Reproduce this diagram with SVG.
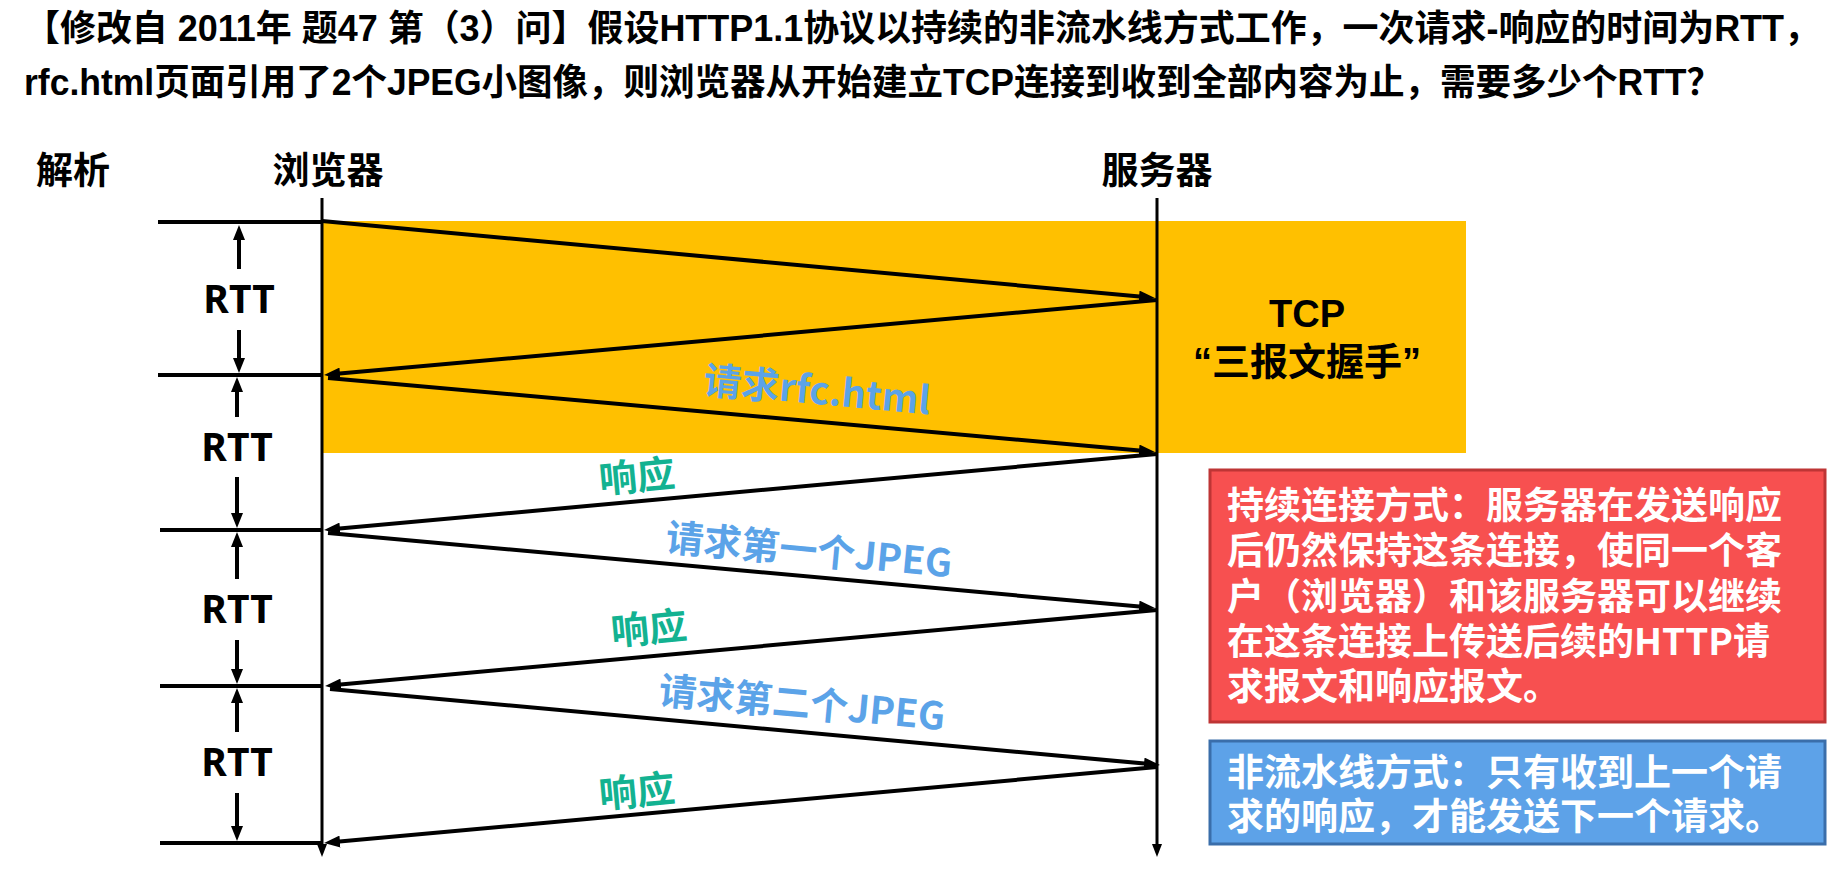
<svg xmlns="http://www.w3.org/2000/svg" width="1847" height="872" viewBox="0 0 1847 872">
<style>
  text { font-family: "Noto Sans CJK SC", "Noto Sans", sans-serif; font-weight: 700; }
  .title { font-family: "Liberation Sans", "Noto Sans CJK SC", sans-serif; font-size: 36px; fill: #000; }
  .head { font-size: 37px; fill: #000; }
  .rtt { font-family: "Noto Sans", "Noto Sans CJK SC", sans-serif; font-size: 39px; fill: #000; text-anchor: middle; }
  .tcp { font-family: "Liberation Sans", "Noto Sans CJK SC", sans-serif; font-size: 38px; fill: #000; text-anchor: middle; }
  .req { font-size: 38px; fill: #5BA3E8; text-anchor: middle; }
  .resp { font-size: 38px; fill: #13B291; text-anchor: middle; }
  .note { font-size: 37px; fill: #fff; }
  .msg { stroke: #000; stroke-width: 4; fill: none; marker-end: url(#msgHead); }
  .life { stroke: #000; stroke-width: 3; fill: none; marker-end: url(#lifeHead); }
  .tick { stroke: #000; stroke-width: 4; }
  .dim { stroke: #000; stroke-width: 4; marker-end: url(#dimHead); }
</style>
<defs>
  <marker id="msgHead" viewBox="0 0 16 12" refX="6" refY="6" markerWidth="16" markerHeight="12" orient="auto" markerUnits="userSpaceOnUse">
    <path d="M0,0 L16,6 L0,12 z" fill="#000"/>
  </marker>
  <marker id="lifeHead" viewBox="0 0 13 10" refX="2" refY="5" markerWidth="13" markerHeight="10" orient="auto" markerUnits="userSpaceOnUse">
    <path d="M0,0 L13,5 L0,10 z" fill="#000"/>
  </marker>
  <marker id="dimHead" viewBox="0 0 15 12" refX="2" refY="6" markerWidth="15" markerHeight="12" orient="auto" markerUnits="userSpaceOnUse">
    <path d="M0,0 L15,6 L0,12 z" fill="#000"/>
  </marker>
</defs>
<rect width="1847" height="872" fill="#fff"/>

<g id="title">
  <text class="title" x="24" y="41" textLength="1796" lengthAdjust="spacingAndGlyphs">【修改自 2011年 题47 第（3）问】假设HTTP1.1协议以持续的非流水线方式工作，一次请求-响应的时间为RTT，</text>
  <text class="title" x="24" y="95" textLength="1698" lengthAdjust="spacingAndGlyphs">rfc.html页面引用了2个JPEG小图像，则浏览器从开始建立TCP连接到收到全部内容为止，需要多少个RTT？</text>
</g>

<g id="tcp-handshake">
  <rect x="322" y="221" width="1144" height="232" fill="#FFC000"/>
  <text class="tcp" x="1307" y="327">TCP</text>
  <text class="tcp" x="1307" y="375">“三报文握手”</text>
</g>

<g id="analysis-label"><text class="head" x="36" y="184">解析</text></g>
<g id="browser">
  <text class="head" x="328" y="184" text-anchor="middle">浏览器</text>
  <line class="life" x1="322" y1="198" x2="322" y2="846"/>
</g>
<g id="server">
  <text class="head" x="1157" y="184" text-anchor="middle">服务器</text>
  <line class="life" x1="1157" y1="198" x2="1157" y2="846"/>
</g>

<g id="rtt-scale">
  <line class="tick" x1="158" y1="222" x2="322" y2="222"/>
  <line class="tick" x1="158" y1="375" x2="322" y2="375"/>
  <line class="tick" x1="160" y1="530" x2="322" y2="530"/>
  <line class="tick" x1="160" y1="686" x2="322" y2="686"/>
  <line class="tick" x1="160" y1="843" x2="322" y2="843"/>
  <line class="dim" x1="239" y1="269" x2="239" y2="238"/>
  <line class="dim" x1="239" y1="330" x2="239" y2="360"/>
  <line class="dim" x1="237" y1="417" x2="237" y2="390"/>
  <line class="dim" x1="237" y1="477" x2="237" y2="515"/>
  <line class="dim" x1="237" y1="579" x2="237" y2="545"/>
  <line class="dim" x1="237" y1="640" x2="237" y2="671"/>
  <line class="dim" x1="237" y1="732" x2="237" y2="701"/>
  <line class="dim" x1="237" y1="793" x2="237" y2="828"/>
  <text class="rtt" x="239" y="313">RTT</text>
  <text class="rtt" x="237" y="461">RTT</text>
  <text class="rtt" x="237" y="623">RTT</text>
  <text class="rtt" x="237" y="776">RTT</text>
</g>

<g id="connectors">
  <line class="msg" x1="322" y1="221" x2="1145" y2="297.1"/>
  <line class="msg" x1="1157" y1="300" x2="334" y2="374.1"/>
  <line class="msg" x1="328" y1="378" x2="1145" y2="451.1"/>
  <line class="msg" x1="1157" y1="454" x2="334" y2="529.1"/>
  <line class="msg" x1="328" y1="533" x2="1145" y2="607.1"/>
  <line class="msg" x1="1157" y1="610" x2="335" y2="685.1"/>
  <line class="msg" x1="330" y1="689" x2="1150" y2="764.1"/>
  <line class="msg" x1="1157" y1="767" x2="334" y2="842.1"/>
</g>

<g id="message-labels">
  <text class="req" transform="translate(817,391) rotate(5.3)" dy="13">请求rfc.html</text>
  <text class="resp" transform="translate(637,477) rotate(-5.3)" dy="13">响应</text>
  <text class="req" transform="translate(809,551) rotate(5.3)" dy="13">请求第一个JPEG</text>
  <text class="resp" transform="translate(649,629) rotate(-5.3)" dy="13">响应</text>
  <text class="req" transform="translate(802,704) rotate(5.3)" dy="13">请求第二个JPEG</text>
  <text class="resp" transform="translate(637,792) rotate(-5.3)" dy="13">响应</text>
</g>

<g id="persistent-note">
  <rect x="1210" y="470" width="615" height="252" fill="#F75050" stroke="#BE3535" stroke-width="3"/>
  <text class="note" x="1227" y="519">持续连接方式：服务器在发送响应</text>
  <text class="note" x="1227" y="564">后仍然保持这条连接，使同一个客</text>
  <text class="note" x="1227" y="610">户（浏览器）和该服务器可以继续</text>
  <text class="note" x="1227" y="655">在这条连接上传送后续的HTTP请</text>
  <text class="note" x="1227" y="700">求报文和响应报文。</text>
</g>

<g id="nonpipeline-note">
  <rect x="1210" y="741" width="615" height="103" fill="#5DA2E8" stroke="#3A6EAA" stroke-width="3"/>
  <text class="note" x="1227" y="786">非流水线方式：只有收到上一个请</text>
  <text class="note" x="1227" y="830">求的响应，才能发送下一个请求。</text>
</g>
</svg>
